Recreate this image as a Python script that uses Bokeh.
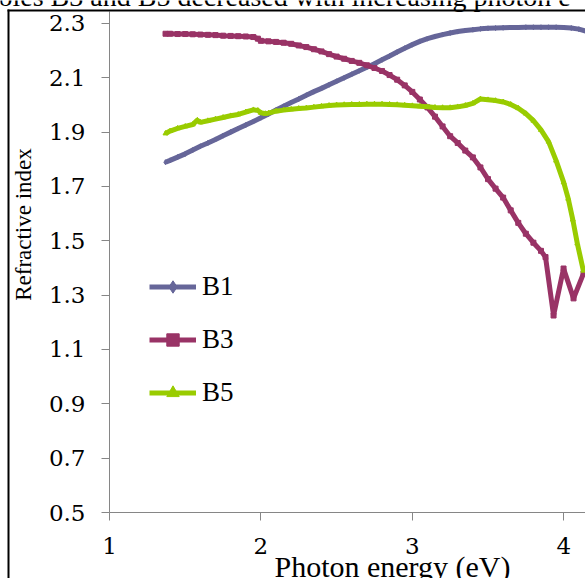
import math

from bokeh.plotting import figure
from bokeh.models import FixedTicker, Label, Arrow, Legend, LegendItem, Range1d
from bokeh.embed import file_html
from bokeh.resources import INLINE

# Refractive index versus photon energy for three samples
energy_b1 = [1.37, 1.40, 1.45, 1.50, 1.55, 1.60, 1.65, 1.70, 1.75, 1.80, 1.85, 1.90,
             1.95, 2.00, 2.05, 2.10, 2.15, 2.20, 2.25, 2.30, 2.35, 2.40, 2.45, 2.50,
             2.55, 2.60, 2.65, 2.70, 2.75, 2.80, 2.85, 2.90, 2.95, 3.00, 3.05, 3.10,
             3.15, 3.20, 3.25, 3.30, 3.35, 3.40, 3.45, 3.50, 3.55, 3.60, 3.65, 3.70,
             3.75, 3.80, 3.85, 3.90, 3.95, 4.00, 4.05, 4.10, 4.15]
n_b1 = [1.789, 1.796, 1.808, 1.820, 1.834, 1.848, 1.860, 1.873, 1.887, 1.900, 1.913, 1.926,
        1.939, 1.953, 1.967, 1.981, 1.995, 2.009, 2.022, 2.036, 2.049, 2.061, 2.074, 2.087,
        2.100, 2.113, 2.126, 2.139, 2.152, 2.166, 2.180, 2.195, 2.209, 2.222, 2.234, 2.244,
        2.252, 2.259, 2.265, 2.270, 2.274, 2.277, 2.280, 2.282, 2.283, 2.284, 2.285, 2.285,
        2.286, 2.286, 2.286, 2.286, 2.286, 2.285, 2.283, 2.279, 2.271]

energy_b3 = [1.37, 1.40, 1.45, 1.50, 1.55, 1.60, 1.65, 1.70, 1.75, 1.80, 1.85, 1.90,
             1.95, 1.98, 2.00, 2.05, 2.10, 2.15, 2.20, 2.25, 2.30, 2.35, 2.40, 2.45,
             2.50, 2.55, 2.60, 2.65, 2.70, 2.75, 2.80, 2.85, 2.90, 2.95, 3.00, 3.05,
             3.10, 3.15, 3.20, 3.25, 3.30, 3.35, 3.40, 3.45, 3.50, 3.55, 3.60, 3.65,
             3.70, 3.75, 3.80, 3.85, 3.88, 3.933, 3.999, 4.065, 4.131]
n_b3 = [2.262, 2.262, 2.261, 2.261, 2.260, 2.259, 2.258, 2.257, 2.255, 2.254, 2.253, 2.252,
        2.250, 2.244, 2.236, 2.234, 2.232, 2.229, 2.225, 2.219, 2.213, 2.205, 2.197, 2.187,
        2.178, 2.170, 2.162, 2.155, 2.146, 2.136, 2.125, 2.110, 2.093, 2.072, 2.048, 2.020,
        1.991, 1.957, 1.921, 1.885, 1.860, 1.832, 1.807, 1.770, 1.727, 1.692, 1.659, 1.612,
        1.566, 1.526, 1.493, 1.463, 1.440, 1.225, 1.398, 1.288, 1.380]

energy_b5 = [1.37, 1.40, 1.45, 1.50, 1.55, 1.58, 1.60, 1.65, 1.70, 1.75, 1.80, 1.85,
             1.90, 1.95, 1.98, 2.00, 2.03, 2.05, 2.10, 2.15, 2.20, 2.25, 2.30, 2.35,
             2.40, 2.45, 2.50, 2.55, 2.60, 2.65, 2.70, 2.75, 2.80, 2.85, 2.90, 2.95,
             3.00, 3.05, 3.10, 3.15, 3.20, 3.25, 3.30, 3.35, 3.40, 3.45, 3.50, 3.55,
             3.60, 3.65, 3.70, 3.75, 3.80, 3.85, 3.90, 3.95, 4.00, 4.03, 4.06, 4.09, 4.13]
n_b5 = [1.895, 1.904, 1.914, 1.921, 1.928, 1.944, 1.936, 1.942, 1.948, 1.954, 1.960, 1.965,
        1.974, 1.982, 1.980, 1.971, 1.968, 1.970, 1.977, 1.981, 1.984, 1.987, 1.989, 1.992,
        1.995, 1.998, 2.000, 2.001, 2.002, 2.002, 2.003, 2.003, 2.003, 2.002, 2.001, 1.999,
        1.997, 1.995, 1.993, 1.991, 1.990, 1.990, 1.993, 1.998, 2.006, 2.022, 2.019, 2.016,
        2.011, 2.002, 1.988, 1.968, 1.942, 1.908, 1.865, 1.795, 1.715, 1.655, 1.578, 1.490, 1.390]

x_ticks = [1, 2, 3, 4]
y_ticks = [0.5, 0.7, 0.9, 1.1, 1.3, 1.5, 1.7, 1.9, 2.1, 2.3]
y_tick_labels = {t: f"{t:.1f}" for t in y_ticks}

series_names = ["B1", "B3", "B5"]
series_colors = ["#666699", "#993366", "#99CC00"]
series_markers = ["diamond", "square", "triangle"]

W, H = 585, 578
AXIS_GREY = "#868686"
SERIF = "Liberation Serif"
TICK_FONT = "DejaVu Serif"

# The plotting frame fills the whole canvas; the axes sit at fixed data
# positions so the text around the chart can live inside the frame too.
X_START, X_END = 0.2800, 4.1440
Y_START, Y_END = 0.2571, 2.3844
X_AXIS_AT, Y_AXIS_AT = 0.5, 1.0
Y_AXIS_TOP = 2.343

p = figure(width=W, height=H, output_backend="svg", toolbar_location=None,
           x_range=Range1d(X_START, X_END), y_range=Range1d(Y_START, Y_END),
           min_border=0, min_border_left=0, min_border_right=0,
           min_border_top=0, min_border_bottom=0)
p.outline_line_color = None
p.grid.visible = False
p.background_fill_color = "white"
p.border_fill_color = "white"

for ax in (p.xaxis[0], p.yaxis[0]):
    ax.axis_line_color = AXIS_GREY
    ax.major_tick_line_color = AXIS_GREY
    ax.minor_tick_line_color = None
    ax.major_tick_in = 0
    ax.major_tick_out = 8
    ax.major_label_text_font = TICK_FONT
    ax.major_label_text_color = "black"

p.xaxis.fixed_location = X_AXIS_AT
p.yaxis.fixed_location = Y_AXIS_AT
p.xaxis.bounds = (Y_AXIS_AT, X_END + 0.1)
p.yaxis.bounds = (X_AXIS_AT, Y_AXIS_TOP)
p.xaxis.ticker = FixedTicker(ticks=x_ticks)
p.yaxis.ticker = FixedTicker(ticks=y_ticks)
p.yaxis.major_label_overrides = y_tick_labels
p.xaxis.major_label_text_font_size = "23px"
p.yaxis.major_label_text_font_size = "23px"
p.xaxis.major_label_standoff = 17
p.yaxis.major_label_standoff = 16


def cx(px):
    """canvas pixel column -> data x"""
    return X_START + px / W * (X_END - X_START)


def cy(py):
    """canvas pixel row (from the top) -> data y"""
    return Y_END - py / H * (Y_END - Y_START)


items = []
for name, xs, ys, color, marker in zip(series_names,
                                       [energy_b1, energy_b3, energy_b5],
                                       [n_b1, n_b3, n_b5],
                                       series_colors, series_markers):
    ln = p.line(xs, ys, line_color=color, line_width=5)
    mk = p.scatter(xs, ys, marker=marker, size=5, fill_color=color, line_color=color)
    items.append(LegendItem(label=name, renderers=[ln, mk]))

legend = Legend(items=items, location=(149, 170), padding=0, margin=0,
                border_line_color=None, background_fill_alpha=0,
                glyph_width=47, glyph_height=31, label_height=31,
                label_standoff=6, spacing=22,
                label_text_font=SERIF, label_text_font_size="27px",
                label_text_color="black")
p.add_layout(legend, "center")

# axis titles
p.add_layout(Label(x=cx(392), y=cy(566), text="Photon energy (eV)",
                   text_font=SERIF, text_font_size="30px", text_color="black",
                   text_align="center", text_baseline="alphabetic"))
p.add_layout(Label(x=cx(23), y=cy(224), text="Refractive index", angle=math.pi / 2,
                   text_font=SERIF, text_font_size="23px", text_color="black",
                   text_align="center", text_baseline="alphabetic"))

# running text of the page above the chart
p.add_layout(Label(x=cx(-2), y=cy(-4), text="oles B3 and B5 decreased with increasing photon e",
                   text_font=SERIF, text_font_size="28px", text_color="black",
                   text_align="left", text_baseline="alphabetic"))

# chart box edges
p.add_layout(Arrow(start=None, end=None, x_start=cx(7), y_start=cy(10),
                   x_end=cx(600), y_end=cy(10), line_color="black", line_width=2))
p.add_layout(Arrow(start=None, end=None, x_start=cx(8), y_start=cy(9),
                   x_end=cx(8), y_end=cy(600), line_color="black", line_width=2))

open("out.html", "w").write(file_html(p, INLINE))
